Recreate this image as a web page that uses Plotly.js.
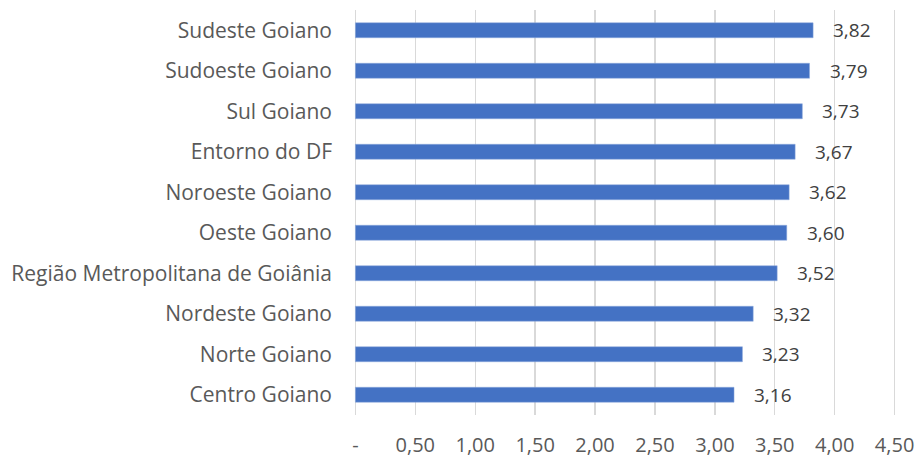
<!DOCTYPE html>
<html><head><meta charset="utf-8">
<script src="https://cdn.plot.ly/plotly-3.0.1.min.js"></script>
<style>html,body{margin:0;padding:0;background:#fff}</style>
</head><body>
<div id="chart" style="width:917px;height:457px"></div>
<script>
const regions = ["Sudeste Goiano","Sudoeste Goiano","Sul Goiano","Entorno do DF","Noroeste Goiano","Oeste Goiano","Região Metropolitana de Goiânia","Nordeste Goiano","Norte Goiano","Centro Goiano"];
const values = [3.82,3.79,3.73,3.67,3.62,3.60,3.52,3.32,3.23,3.16];
const tickVals = [0,0.5,1,1.5,2,2.5,3,3.5,4,4.5];
const tickText = ["-","0,50","1,00","1,50","2,00","2,50","3,00","3,50","4,00","4,50"];

const fontFam = "Open Sans, Noto Sans, sans-serif";
const fmt = v => v.toFixed(2).replace('.', ',');

const trace = {
  type: 'bar', orientation: 'h',
  x: values, y: regions,
  marker: {color: '#4472C4', line: {color: '#8FAADC', width: 0.5}},
  width: 0.37,
  hoverinfo: 'x+y'
};

const annotations = regions.map((r, i) => ({
  x: values[i], y: r, xref: 'x', yref: 'y',
  text: fmt(values[i]), showarrow: false,
  xanchor: 'left', xshift: 18, yshift: 0,
  font: {family: fontFam, size: 19, color: '#404040'}
}));

const layout = {
  width: 917, height: 457,
  margin: {l: 353, r: 20, t: 10, b: 42},
  paper_bgcolor: '#fff', plot_bgcolor: '#fff',
  showlegend: false,
  bargap: 0.63,
  xaxis: {
    range: [-0.02, 4.52], tickvals: tickVals, ticktext: tickText,
    showgrid: true, gridcolor: '#D9D9D9', gridwidth: 1.3,
    zeroline: false, showline: false, ticks: '',
    ticklabelstandoff: 16,
    tickfont: {family: fontFam, size: 20, color: '#595959'}
  },
  yaxis: {
    type: 'category', autorange: 'reversed',
    showgrid: false, zeroline: false, showline: false, ticks: '',
    ticklabelstandoff: 20,
    tickfont: {family: fontFam, size: 21, color: '#595959'}
  },
  annotations: annotations
};

Plotly.newPlot('chart', [trace], layout, {displayModeBar: false, staticPlot: true});
</script>
</body></html>
